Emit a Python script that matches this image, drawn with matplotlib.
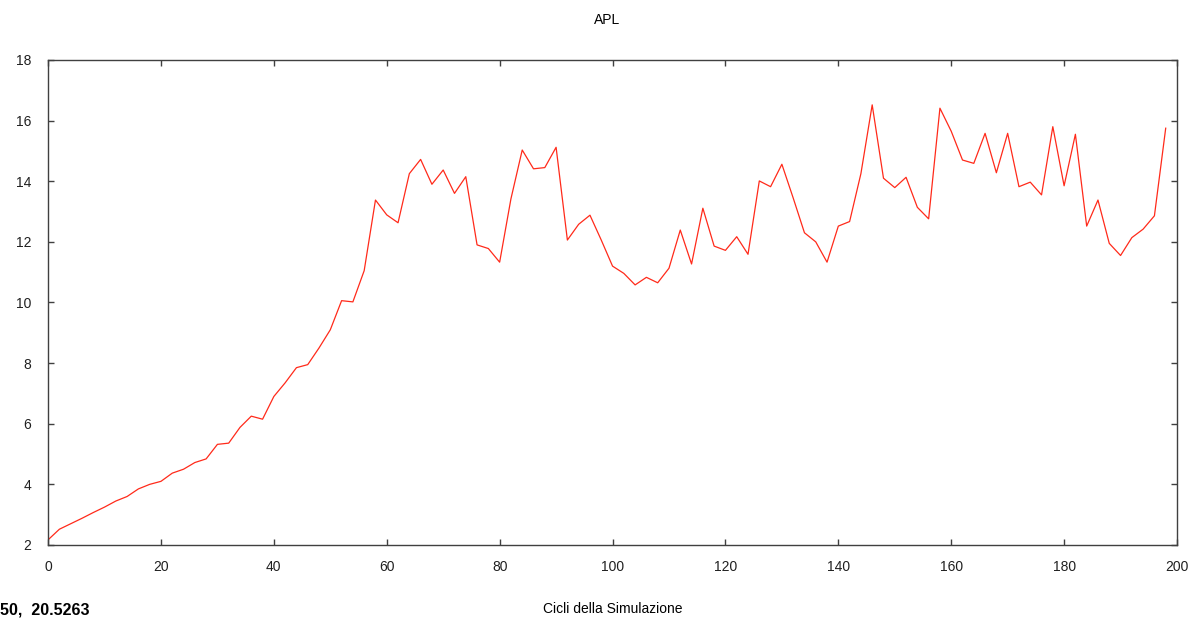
import matplotlib
matplotlib.use("Agg")
import matplotlib.pyplot as plt

# Cicli della simulazione (passo 2) e valori APL
cicli = list(range(0, 200, 2))
apl = [
    2.17, 2.52, 2.70, 2.88, 3.07, 3.25, 3.45, 3.60, 3.85, 4.00,
    4.10, 4.37, 4.50, 4.72, 4.84, 5.32, 5.36, 5.88, 6.25, 6.15,
    6.90, 7.35, 7.85, 7.95, 8.50, 9.10, 10.06, 10.02, 11.05, 13.38,
    12.89, 12.63, 14.25, 14.72, 13.90, 14.37, 13.60, 14.15, 11.90, 11.78,
    11.33, 13.42, 15.03, 14.41, 14.45, 15.12, 12.06, 12.58, 12.88, 12.06,
    11.20, 10.96, 10.58, 10.83, 10.65, 11.13, 12.39, 11.27, 13.11, 11.86,
    11.72, 12.17, 11.59, 14.01, 13.82, 14.56, 13.45, 12.30, 12.00, 11.33,
    12.52, 12.67, 14.25, 16.52, 14.10, 13.79, 14.13, 13.14, 12.76, 16.41,
    15.65, 14.70, 14.59, 15.58, 14.28, 15.58, 13.82, 13.97, 13.55, 15.80,
    13.85, 15.55, 12.52, 13.38, 11.95, 11.55, 12.14, 12.42, 12.86, 15.75,
]

titolo = "APL"
etichetta_x = "Cicli della Simulazione"
coordinate = "50,  20.5263"

plt.rcParams["font.family"] = ["Liberation Sans", "DejaVu Sans"]

fig = plt.figure(figsize=(12.02, 6.21), dpi=100)
ax = fig.add_axes([0.04, 0.1224, 0.9392, 0.781])

ax.plot(cicli, apl, color="#ff2a1a", linewidth=0.9)

ax.set_xlim(0, 200)
ax.set_ylim(2, 18)
ax.set_xticks(range(0, 201, 20))
ax.set_yticks(range(2, 19, 2))

for s in ax.spines.values():
    s.set_color("#404040")
    s.set_linewidth(1.0)

ax.tick_params(direction="in", length=4, width=1, color="#404040",
               labelsize=10, labelcolor="#202020",
               top=True, right=True)
ax.tick_params(axis="y", pad=12)
ax.tick_params(axis="x", pad=11)

fig.text(0.505, 0.968, titolo, ha="center", va="center", fontsize=10)
fig.text(0.51, 0.019, etichetta_x, ha="center", va="center", fontsize=10)
fig.text(0.0, 0.017, coordinate, ha="left", va="center", fontsize=11.5,
         fontweight="bold")

fig.savefig("out.png", dpi=100, facecolor="white")
